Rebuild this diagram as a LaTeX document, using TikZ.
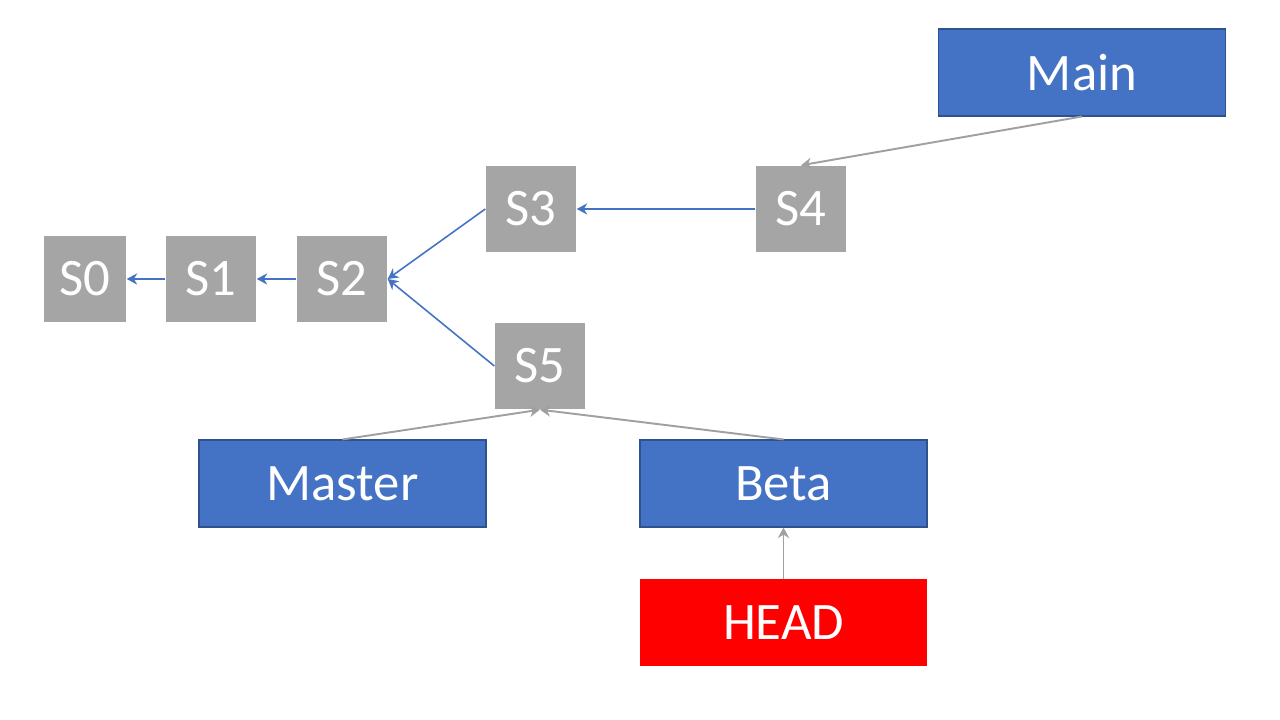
\documentclass[tikz,border=0pt]{standalone}
\usepackage{fontspec}
\setmainfont{Carlito}
\usetikzlibrary{arrows.meta,calc}
\definecolor{SnapClr}{HTML}{A5A5A5}
\definecolor{BranchClr}{HTML}{4472C4}
\definecolor{BranchLine}{HTML}{2F528F}
\definecolor{HeadClr}{HTML}{FF0000}
\definecolor{PtrClr}{HTML}{A0A0A0}

\tikzset{
  snap/.style={fill=SnapClr,text=white,minimum width=.9cm,minimum height=.86cm,inner sep=0pt,font=\fontsize{15pt}{17pt}\selectfont},
  branch/.style={fill=BranchClr,draw=BranchLine,line width=.3pt,text=white,minimum width=2.87cm,minimum height=.87cm,inner sep=0pt,font=\fontsize{15pt}{17pt}\selectfont},
  headbox/.style={branch,fill=HeadClr,draw=none},
  parent/.style={draw=BranchClr,line width=.45pt,-{Stealth[length=3pt,width=3.2pt]}},
  pointer/.style={draw=PtrClr,line width=.55pt,-{Stealth[length=3pt,width=3.2pt]}}
}

\begin{document}
\begin{tikzpicture}
\useasboundingbox (0,0) rectangle (12.8,7.2);

\node[snap,minimum width=.82cm] (S0) at (0.85,4.41) {S0};
\node[snap] (S1) at (2.11,4.41) {S1};
\node[snap] (S2) at (3.42,4.41) {S2};
\node[snap] (S3) at (5.31,5.11) {S3};
\node[snap] (S4) at (8.01,5.11) {S4};
\node[snap] (S5) at (5.40,3.54) {S5};

\node[branch] (main) at (10.82,6.475) {Main};
\node[branch] (master) at (3.425,2.365) {Master};
\node[branch] (beta) at (7.835,2.365) {Beta};
\node[headbox] (head) at (7.835,0.97) {HEAD};

\draw[parent] (S1.west) -- (S0.east);
\draw[parent] (S2.west) -- (S1.east);
\draw[parent] (S3.west) -- (S2.east);
\draw[parent] (S5.west) -- (S2.east);
\draw[parent] (S4.west) -- (S3.east);

\draw[pointer] (main.south) -- (S4.north);
\draw[pointer] (master.north) -- (S5.south);
\draw[pointer] (beta.north) -- (S5.south);
\draw[pointer] (head.north) -- (beta.south);

\end{tikzpicture}
\end{document}
